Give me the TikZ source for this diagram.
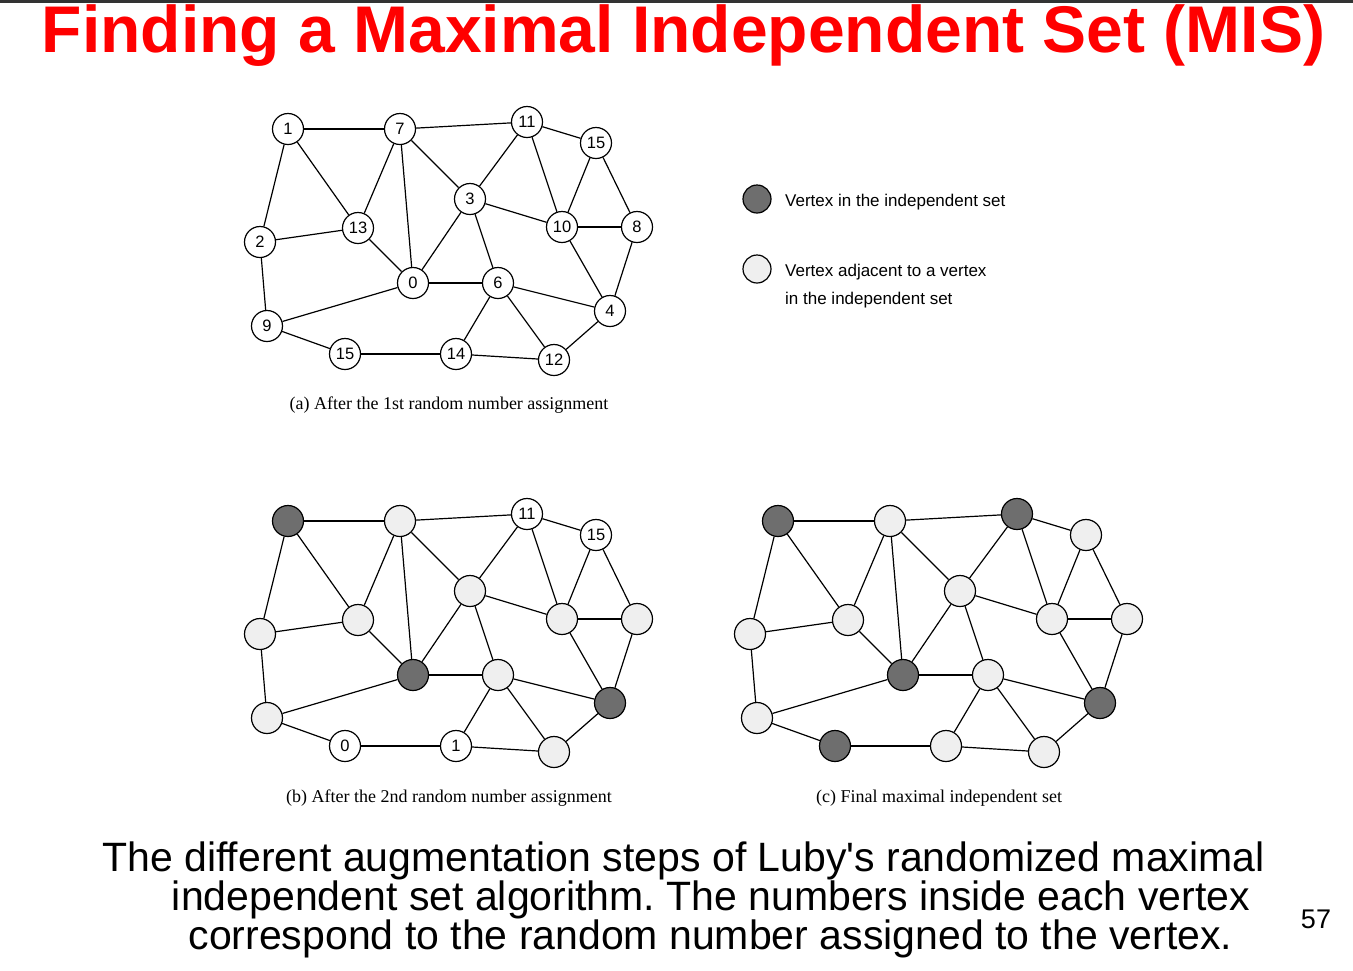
\documentclass[tikz,border=0pt]{standalone}
\usepackage{fontspec}
\setmainfont{Liberation Sans}
\newfontfamily\capfont{Liberation Serif}

\definecolor{setgray}{HTML}{6E6E6E}
\definecolor{adjgray}{HTML}{EFEFEF}
\definecolor{titlered}{HTML}{FF0000}

\tikzset{
	vtx/.style={circle, draw, line width=1.2pt, minimum size=31pt, inner sep=0pt,
		fill=white, font=\fontsize{16.5}{16.5}\selectfont},
	inset/.style={vtx, fill=setgray},
	adjset/.style={vtx, fill=adjgray},
	edge/.style={line width=1.2pt},
	caption/.style={anchor=base, font=\capfont\fontsize{18}{18}\selectfont},
	keytext/.style={anchor=base west, inner sep=0pt, font=\fontsize{17}{17}\selectfont},
	bodytext/.style={anchor=base, font=\fontsize{41}{41}\selectfont},
}

\begin{document}
\frenchspacing
\begin{tikzpicture}[x=1pt, y=-1pt]
	\useasboundingbox (0,0) rectangle (1353,970);

	% title
	\node[anchor=base, text=titlered, font=\bfseries\fontsize{66}{66}\selectfont] (title) at (683.5,52) {Finding a Maximal Independent Set (MIS)};
	\fill[black!80] (0,0) rectangle (1353,2.5);

	% (a) numbers after the first round
	\node[vtx] (a1) at (288,129) {1};
	\node[vtx] (a7) at (400,129) {7};
	\node[vtx] (a11) at (527,122) {11};
	\node[vtx] (a15t) at (596,143) {15};
	\node[vtx] (a3) at (470,199) {3};
	\node[vtx] (a13) at (358,228) {13};
	\node[vtx] (a2) at (260,242) {2};
	\node[vtx] (a10) at (562,227) {10};
	\node[vtx] (a8) at (637,227) {8};
	\node[vtx] (a0) at (413,283) {0};
	\node[vtx] (a6) at (498,283) {6};
	\node[vtx] (a4) at (610,311) {4};
	\node[vtx] (a9) at (267,326) {9};
	\node[vtx] (a15b) at (345,354) {15};
	\node[vtx] (a14) at (456,354) {14};
	\node[vtx] (a12) at (554,360) {12};

	% (b) after the second round
	\begin{scope}[shift={(0,392)}]
		\node[inset] (b1) at (288,129) {};
		\node[adjset] (b7) at (400,129) {};
		\node[vtx] (b11) at (527,122) {11};
		\node[vtx] (b15t) at (596,143) {15};
		\node[adjset] (b3) at (470,199) {};
		\node[adjset] (b13) at (358,228) {};
		\node[adjset] (b2) at (260,242) {};
		\node[adjset] (b10) at (562,227) {};
		\node[adjset] (b8) at (637,227) {};
		\node[inset] (b0) at (413,283) {};
		\node[adjset] (b6) at (498,283) {};
		\node[inset] (b4) at (610,311) {};
		\node[adjset] (b9) at (267,326) {};
		\node[vtx] (b15b) at (345,354) {0};
		\node[vtx] (b14) at (456,354) {1};
		\node[adjset] (b12) at (554,360) {};
	\end{scope}

	% (c) final set
	\begin{scope}[shift={(490,392)}]
		\node[inset] (c1) at (288,129) {};
		\node[adjset] (c7) at (400,129) {};
		\node[inset] (c11) at (527,122) {};
		\node[adjset] (c15t) at (596,143) {};
		\node[adjset] (c3) at (470,199) {};
		\node[adjset] (c13) at (358,228) {};
		\node[adjset] (c2) at (260,242) {};
		\node[adjset] (c10) at (562,227) {};
		\node[adjset] (c8) at (637,227) {};
		\node[inset] (c0) at (413,283) {};
		\node[adjset] (c6) at (498,283) {};
		\node[inset] (c4) at (610,311) {};
		\node[adjset] (c9) at (267,326) {};
		\node[inset] (c15b) at (345,354) {};
		\node[adjset] (c14) at (456,354) {};
		\node[adjset] (c12) at (554,360) {};
	\end{scope}

	\foreach \g in {a,b,c}
		\foreach \u/\v in {1/7, 1/2, 1/13, 7/11, 7/13, 7/0, 7/3, 11/15t, 11/3, 11/10,
				15t/10, 15t/8, 3/10, 3/0, 3/6, 13/2, 13/0, 10/8, 10/4, 8/4,
				0/6, 0/9, 6/4, 6/14, 6/12, 2/9, 9/15b, 15b/14, 14/12, 12/4}
			\draw[edge] (\g\u) -- (\g\v);

	% captions
	\node[caption] (capa) at (449,409) {(a) After the 1st random number assignment};
	\node[caption] (capb) at (449,802) {(b) After the 2nd random number assignment};
	\node[caption] (capc) at (939,802) {(c) Final maximal independent set};

	% legend
	\node[inset, minimum size=28pt] (keyset) at (757,199) {};
	\node[adjset, minimum size=28pt] (keyadj) at (757,269) {};
	\node[keytext] (keysettext) at (785,206) {Vertex in the independent set};
	\node[keytext] (keyadjtext) at (785,276) {Vertex adjacent to a vertex};
	\node[keytext] (keyadjtext2) at (785,304) {in the independent set};

	% bottom text
	\node[bodytext] (body1) at (683.5,871) {The different augmentation steps of Luby\textquotesingle s randomized maximal};
	\node[bodytext] (body2) at (711,910) {independent set algorithm. The numbers inside each vertex};
	\node[bodytext] (body3) at (710.5,949) {correspond to the random number assigned to the vertex.};
	\node[anchor=base, font=\fontsize{27}{27}\selectfont] (pagenum) at (1316,928) {57};
\end{tikzpicture}
\end{document}
